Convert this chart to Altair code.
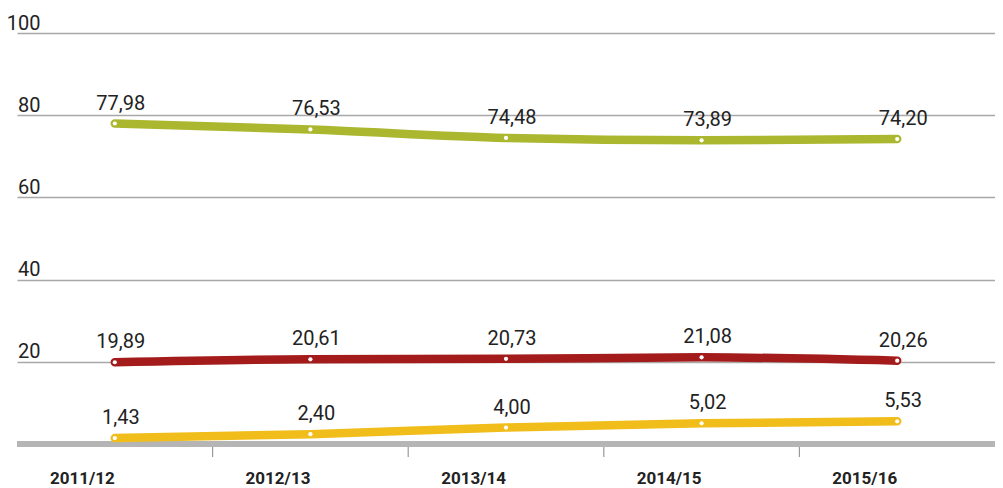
import altair as alt
import pandas as pd

years = ["2011/12", "2012/13", "2013/14", "2014/15", "2015/16"]
green_vals = [77.98, 76.53, 74.48, 73.89, 74.20]
red_vals = [19.89, 20.61, 20.73, 21.08, 20.26]
yellow_vals = [1.43, 2.40, 4.00, 5.02, 5.53]
series_names = ["green", "red", "yellow"]
series_colors = ["#abb72e", "#a31b1a", "#f0bd1b"]
y_ticks = [20, 40, 60, 80, 100]

rows = []
for name, vals in zip(series_names, [green_vals, red_vals, yellow_vals]):
    for yr, v in zip(years, vals):
        rows.append({"year": yr, "value": v, "series": name,
                     "label": f"{v:.2f}".replace(".", ",")})
df = pd.DataFrame(rows)

W, H = 978, 411

xscale = alt.Scale(domain=years, paddingInner=0, paddingOuter=0)
yscale = alt.Scale(domain=[0, 100], nice=False)

base = alt.Chart(df)

grid_axis = alt.Axis(values=y_ticks, grid=True, gridColor="#a8a8a8", gridWidth=1.5,
                     ticks=False, domain=False, labelAlign="right",
                     labelBaseline="bottom", labelPadding=-23, labelFont="Roboto",
                     labelFontSize=20, labelColor="#222222", title=None)

lines = base.mark_line(strokeWidth=8.5, strokeCap="round", interpolate="monotone").encode(
    x=alt.X("year:O", scale=xscale, sort=years,
            axis=alt.Axis(ticks=False, domain=False, labelAngle=0,
                          labelFont="Roboto",
                          labelFontWeight="bold", labelFontSize=17, labelColor="#222222",
                          labelBaseline="top", labelPadding=26, title=None)),
    y=alt.Y("value:Q", scale=yscale, axis=grid_axis),
    color=alt.Color("series:N", scale=alt.Scale(domain=series_names, range=series_colors), legend=None),
)

dots = base.mark_point(filled=True, color="white", size=18, opacity=1).encode(
    x=alt.X("year:O", scale=xscale, sort=years),
    y=alt.Y("value:Q", scale=yscale),
)

labels = base.mark_text(font="Roboto", fontSize=20, color="#222222", dx=6, dy=-10,
                        baseline="bottom", align="center").encode(
    x=alt.X("year:O", scale=xscale, sort=years),
    y=alt.Y("value:Q", scale=yscale),
    text="label:N",
)

baseline = base.mark_rule(color="#b5b5b5", strokeWidth=6).encode(
    x=alt.value(0), x2=alt.value(W), y=alt.datum(0)
)

tick_df = pd.DataFrame({"year": years[1:]})
ticks = alt.Chart(tick_df).mark_rule(color="#9a9a9a", strokeWidth=1.2).encode(
    x=alt.X("year:O", scale=xscale, sort=years, bandPosition=0),
    y=alt.value(H + 3), y2=alt.value(H + 13),
)

chart = alt.layer(baseline, ticks, lines, dots, labels).properties(
    width=W, height=H,
    autosize=alt.AutoSizeParams(type="none"),
    padding={"left": 9, "top": 25, "right": 0, "bottom": 42},
).configure_view(stroke=None)

chart.save("out.html", embed_options={"renderer": "svg", "actions": False})
